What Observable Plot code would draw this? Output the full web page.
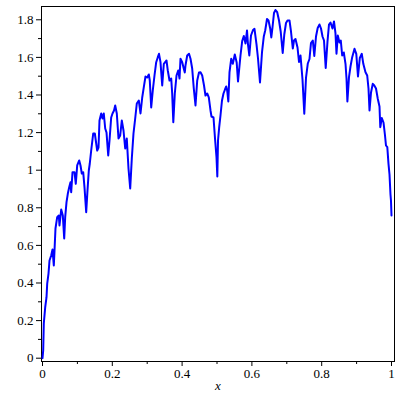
<!DOCTYPE html>
<html>
<head>
<meta charset="utf-8">
<script src="https://cdn.jsdelivr.net/npm/d3@7"></script>
<script src="https://cdn.jsdelivr.net/npm/@observablehq/plot@0.6"></script>
<style>
  html, body { margin: 0; padding: 0; background: #fff; }
  #chart svg { display: block; }
</style>
</head>
<body>
<div id="chart"></div>
<script>
const xs = [0,0.002,0.0037,0.0077,0.0115,0.0135,0.0172,0.0201,0.0249,0.0287,0.0324,0.0344,0.0372,0.0421,0.0467,0.0487,0.0536,0.0582,0.0622,0.065,0.0688,0.0725,0.0765,0.0802,0.0822,0.086,0.0917,0.0954,0.0994,0.1052,0.1089,0.1126,0.1166,0.1203,0.1252,0.1289,0.1327,0.1355,0.1395,0.1453,0.1499,0.1567,0.1605,0.1633,0.1682,0.1719,0.1756,0.1797,0.1834,0.1883,0.192,0.1968,0.2006,0.2049,0.2083,0.2129,0.2178,0.2226,0.2272,0.2321,0.237,0.2415,0.2464,0.2513,0.2559,0.2607,0.2656,0.2702,0.2759,0.2808,0.2857,0.2903,0.2951,0.3,0.3046,0.3074,0.3115,0.316,0.3209,0.3258,0.3304,0.3338,0.3381,0.343,0.3476,0.3553,0.359,0.3639,0.3688,0.3716,0.3748,0.3791,0.384,0.3888,0.3926,0.3954,0.4003,0.4049,0.4077,0.4097,0.4146,0.4198,0.4241,0.4289,0.4335,0.4384,0.4433,0.4484,0.4527,0.4576,0.4628,0.467,0.4719,0.4765,0.4814,0.4842,0.49,0.4943,0.4986,0.5009,0.5029,0.5063,0.51,0.5143,0.5186,0.5229,0.5264,0.5292,0.5324,0.5358,0.5407,0.5453,0.551,0.5564,0.5602,0.5673,0.5722,0.5768,0.5817,0.586,0.5888,0.5926,0.5974,0.6032,0.6074,0.6132,0.6175,0.6232,0.6289,0.6341,0.6381,0.6433,0.6476,0.6524,0.6556,0.659,0.6633,0.6676,0.6725,0.6777,0.6825,0.6883,0.6928,0.6977,0.702,0.7077,0.712,0.7172,0.7206,0.7249,0.7307,0.735,0.7393,0.745,0.7501,0.755,0.7602,0.765,0.7693,0.7745,0.7788,0.7837,0.7885,0.7937,0.798,0.8023,0.8066,0.8115,0.8166,0.8209,0.8252,0.8309,0.8352,0.8395,0.8424,0.8461,0.851,0.8547,0.8587,0.8633,0.8682,0.8711,0.8736,0.8782,0.8825,0.8874,0.894,0.8991,0.904,0.9092,0.9149,0.9192,0.9255,0.9304,0.9341,0.937,0.9413,0.9464,0.9507,0.9556,0.9607,0.9656,0.9679,0.9722,0.9771,0.9814,0.9842,0.988,0.9914,0.9943,0.9971,0.9985,1];
const ys = [0,0.041,0.1846,0.2697,0.3245,0.3973,0.4505,0.5197,0.5463,0.5782,0.4931,0.5729,0.6899,0.75,0.759,0.7059,0.791,0.759,0.6367,0.75,0.8298,0.8745,0.9096,0.9362,0.883,0.9894,0.9894,0.9277,1.025,1.0516,1.025,0.9824,0.9894,0.9096,0.7766,0.892,0.9984,1.0356,1.1048,1.1952,1.1952,1.1048,1.1207,1.2644,1.3016,1.275,1.3016,1.2218,1.2005,1.0782,1.158,1.2803,1.3016,1.3176,1.3441,1.3016,1.1686,1.1846,1.2644,1.2112,1.1154,1.1686,1.009,0.9027,1.0622,1.1952,1.275,1.3548,1.3707,1.3016,1.3867,1.4415,1.4984,1.4931,1.509,1.4771,1.3335,1.4239,1.5037,1.5745,1.6011,1.6191,1.5745,1.4505,1.566,1.5835,1.5303,1.4771,1.4878,1.408,1.2553,1.408,1.5037,1.5303,1.4878,1.5926,1.5745,1.5394,1.5197,1.5569,1.6101,1.6191,1.5926,1.541,1.4346,1.3441,1.4771,1.5197,1.5213,1.5037,1.4505,1.3973,1.408,1.3867,1.3176,1.2856,1.2803,1.1686,1.0676,0.9665,1.158,1.2287,1.291,1.3707,1.408,1.4293,1.4452,1.4239,1.3654,1.5197,1.5926,1.566,1.6154,1.5729,1.4718,1.6101,1.6872,1.7138,1.6739,1.7431,1.6686,1.6101,1.7165,1.7457,1.7521,1.6686,1.5941,1.4665,1.6261,1.7112,1.7431,1.8043,1.7963,1.7537,1.7059,1.759,1.8362,1.8521,1.8404,1.7963,1.7378,1.6234,1.7218,1.783,1.7963,1.7963,1.7378,1.6473,1.6899,1.6979,1.6527,1.5755,1.6101,1.4824,1.3,1.4904,1.5676,1.5915,1.6766,1.6899,1.6074,1.7112,1.7564,1.775,1.7537,1.7112,1.6899,1.5436,1.6846,1.775,1.7856,1.7537,1.791,1.7271,1.6191,1.7165,1.6793,1.6899,1.6101,1.6261,1.566,1.4878,1.3654,1.4947,1.5516,1.6011,1.6457,1.6191,1.4984,1.5968,1.6191,1.566,1.5213,1.5037,1.4346,1.3176,1.4133,1.4596,1.4505,1.4346,1.3798,1.3388,1.2287,1.2777,1.2537,1.1846,1.1314,1.1223,1.034,0.9771,0.8707,0.8388,0.759];

const xMajor = [0, 0.2, 0.4, 0.6, 0.8, 1];
const xMinor = [0.1, 0.3, 0.5, 0.7, 0.9];
const yMajor = [0, 0.2, 0.4, 0.6, 0.8, 1, 1.2, 1.4, 1.6, 1.8];
const yMinor = [0.1, 0.3, 0.5, 0.7, 0.9, 1.1, 1.3, 1.5, 1.7];
const xLabel = ["x"];

const data = xs.map((x, i) => ({x, y: ys[i]}));
const fmt = d => String(+d.toFixed(1));
const serif = "Liberation Serif";

const chart = Plot.plot({
  width: 400,
  height: 400,
  marginLeft: 41,
  marginRight: 6,
  marginTop: 6,
  marginBottom: 39,
  style: {fontSize: "13px", background: "#fff", color: "#000"},
  x: {domain: [-0.00287, 1.0086]},
  y: {domain: [-0.01755, 1.8707]},
  marks: [
    Plot.frame({stroke: "#000", strokeWidth: 1}),
    Plot.axisX({ticks: xMajor, tickSize: 5, tickPadding: 2, tickFormat: fmt, label: null, fontFamily: serif}),
    Plot.axisX({ticks: xMinor, tickSize: 3, tickFormat: () => "", label: null}),
    Plot.axisY({ticks: yMajor, tickSize: 5, tickPadding: 3, tickFormat: fmt, label: null, fontFamily: serif}),
    Plot.axisY({ticks: yMinor, tickSize: 3, tickFormat: () => "", label: null}),
    Plot.line(data, {x: "x", y: "y", stroke: "#0000ff", strokeWidth: 2}),
    Plot.text(xLabel, {text: d => d, frameAnchor: "bottom", dy: 28, fontStyle: "italic", fontSize: 13, fontFamily: serif})
  ]
});
chart.querySelectorAll("text").forEach(t => t.setAttribute("font-family", serif));
document.getElementById("chart").appendChild(chart);
</script>
</body>
</html>
